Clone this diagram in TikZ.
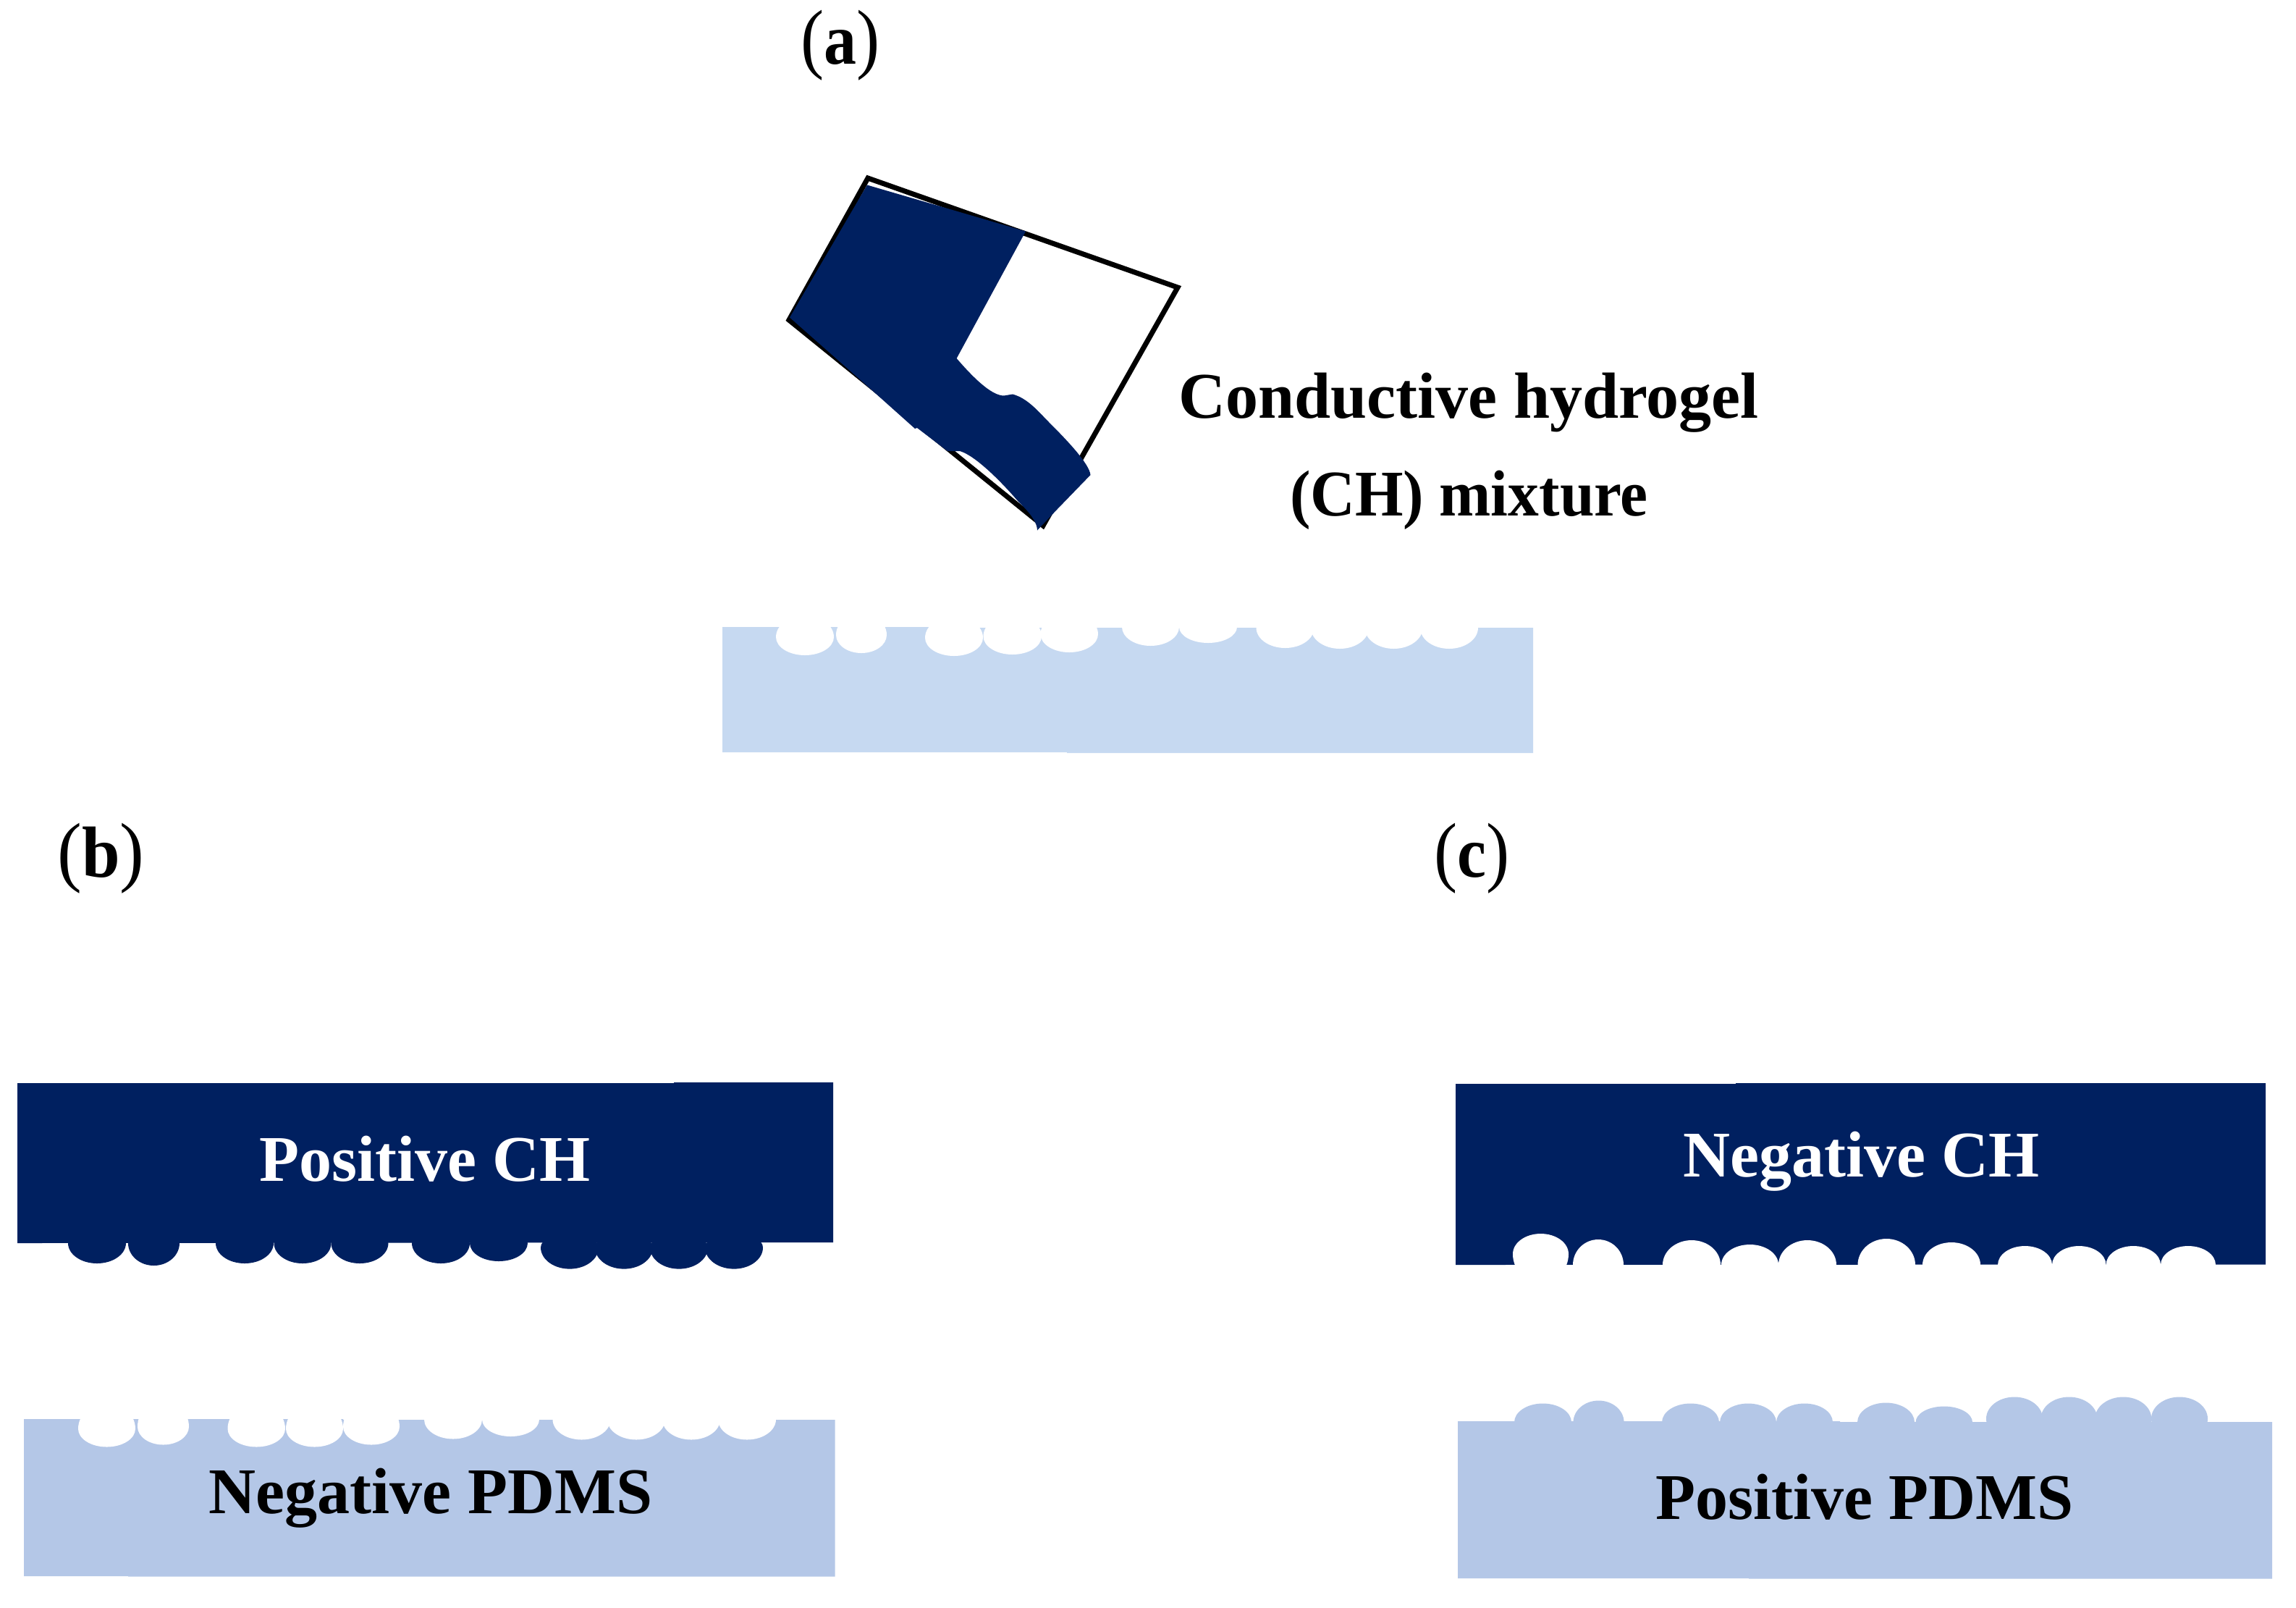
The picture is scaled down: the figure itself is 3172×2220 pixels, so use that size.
\documentclass[tikz,border=0pt]{standalone}
\usepackage{fontspec}
\setmainfont{Liberation Serif}
\definecolor{navy}{HTML}{002060}
\definecolor{paleblue}{HTML}{C6D9F1}
\definecolor{midblue}{HTML}{B4C7E7}
\tikzset{
  lbl/.style={anchor=base,inner sep=0pt,font=\fontsize{25.6pt}{30pt}\selectfont\bfseries},
  panel/.style={anchor=base,inner sep=0pt,xscale=0.9,transform shape},
}
\newcommand{\bumps}[2]{%
  \foreach \l/\r/\c/\u/\d [evaluate=\l as \w using (\r-\l)/2] in {#2}
    \fill[#1] (\l,\c) arc[start angle=180,end angle=360,x radius=\w,y radius=\u]
                      arc[start angle=0,end angle=180,x radius=\w,y radius=\d] -- cycle;
}
\newcommand{\panelmark}[1]{{\fontsize{30.5pt}{34pt}\selectfont(}{\fontsize{28.45pt}{34pt}\selectfont\bfseries #1}{\fontsize{30.5pt}{34pt}\selectfont)}}
\begin{document}
\begin{tikzpicture}[x=0.01cm,y=-0.01cm]
\useasboundingbox (0,0) rectangle (3172,2220);
% panel a: cup
\draw[line width=2pt,line join=miter] (1199,246) -- (1627,397) -- (1441,726) -- (1090,442) -- cycle;
\fill[navy] (1198,255.5) -- (1417,319.5) -- (1321.6,495)
  .. controls (1350,528) and (1372,546.5) .. (1387,546.5) -- (1399,544.5)
  .. controls (1420,550) and (1436,570) .. (1449,583)
  .. controls (1472,606) and (1505,640) .. (1506.5,656)
  -- (1460,704) -- (1433,732.5)
  .. controls (1433,723) and (1425,710) .. (1407,693)
  .. controls (1390,673) and (1350,630) .. (1326,623)
  -- (1309,623) -- (1267,591) -- (1264,592) -- (1203,537.5) -- (1091,438.5) -- cycle;
% panel a: substrate
\fill[paleblue] (998,866) -- (1352,866) -- (1352,867) -- (2118,867) -- (2118,1040) -- (1474,1040) -- (1474,1039) -- (998,1039) -- cycle;
\bumps{white}{1072/1152/880/30/25,1155/1225/877/30/25,1278/1358/881/30/25,1358.5/1439/879/30/25,1437.5/1517/876/30/25,
  1550/1629/866/10/26,1629/1709/866/10/22,1735.5/1815.5/867/10/28,1811/1891/867/10/29,1885.5/1965.5/867/10/29,1962/2042/867/10/29}
% panel b: positive CH
\fill[navy] (24,1496) -- (931,1496) -- (931,1495) -- (1151,1495) -- (1151,1716) -- (24,1717) -- cycle;
\bumps{navy}{94/174/1717/10/28,177/248/1717/10/31,298/378/1717/10/28,378.5/457.5/1717/10/28,457.5/536.5/1717/10/28,
  569/649/1717/10/28,649/729/1717/10/25,747/827/1723/20/29.6,822/902/1723/20/29.6,898/978/1723/20/29.6,974/1054/1723/20/29.6}
% panel b: negative PDMS
\fill[midblue] (33,1960) -- (474,1960) -- (474,1961) -- (1153.5,1961) -- (1153.5,2177.5) -- (177,2177.5) -- (177,2177) -- (33,2177) -- cycle;
\bumps{white}{108/187/1973.5/36/25,190/261/1970.5/36/25,314.5/394/1973.5/36/25,395/474/1973.5/36/25,474/552/1970.5/36/25,
  586/666/1960.5/10/27,666/745/1960.5/10/23.5,763.5/843.5/1960.5/10/28,839/919/1960.5/10/28,915/995/1960.5/10/28,992/1072/1960.5/10/28}
% panel c: negative CH
\fill[navy] (2011,1497) -- (2398,1497) -- (2398,1496) -- (3130,1496) -- (3130,1746.5) -- (2011,1747) -- cycle;
\bumps{white}{2090/2167/1732/28/40,2173/2243/1747/35/10,2297/2377/1747/34/10,2378/2457/1747/28/10,2457/2537/1747/34/10,
  2566.5/2646/1747/36/10,2656/2736/1747/31/10,2760/2835/1747/26/10,2835/2909.5/1747/26/10,2909.5/2985/1747/26/10,2985/3061/1747/26/10}
% panel c: positive PDMS
\fill[midblue] (2014,1963) -- (2542,1963) -- (2542,1964) -- (3139,1964) -- (3139,2180.7) -- (2416,2180.7) -- (2416,2180) -- (2014,2180) -- cycle;
\bumps{midblue}{2092/2171/1964.5/26/5,2173.5/2243.6/1964.5/30/5,2296/2375/1964.5/26/5,2376/2454/1964.5/26/5,2454/2532/1964.5/26/5,
  2566/2645/1964.5/27/5,2646.5/2725/1964.5/22/5,2744/2822/1959.5/30/30,2819.5/2897.5/1959.5/30/30,2894.3/2972.3/1959.5/30/30,2972/3050/1959.5/30/30}
% labels
\node[panel] (la) at (1161,88) {\panelmark{a}};
\node[panel,xscale=1.05] (lb) at (139.5,1211) {\panelmark{b}};
\node[panel] (lc) at (2033.5,1211) {\panelmark{c}};
\node[lbl] (t1) at (2029,577) {Conductive hydrogel};
\node[lbl,xscale=0.95,transform shape] (t2) at (2029.5,712) {(CH) mixture};
\node[lbl,text=white] (t3) at (587,1631) {Positive CH};
\node[lbl] (t4) at (595,2090) {Negative PDMS};
\node[lbl,text=white] (t5) at (2571.5,1625) {Negative CH};
\node[lbl] (t6) at (2576,2098.6) {Positive PDMS};
\end{tikzpicture}
\end{document}
